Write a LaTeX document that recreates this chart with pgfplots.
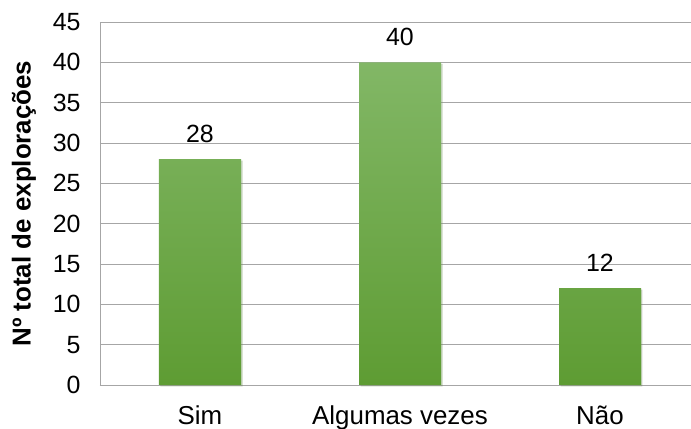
\documentclass[border=0pt]{standalone}
\usepackage{fontspec}
\setmainfont{Liberation Sans}
\usepackage{pgfplots}
\pgfplotsset{compat=1.18}
\usetikzlibrary{shadows}

\definecolor{gridgray}{HTML}{A6A6A6}
\definecolor{bartop}{HTML}{82B766}
\definecolor{barmid}{HTML}{6FAD46}
\definecolor{barbot}{HTML}{5E9C33}

\begin{document}
\begin{tikzpicture}
\begin{axis}[
  name=ax,
  scale only axis,
  width=591bp, height=363bp,
  ybar, bar width=82bp,
  xmin=-0.5, xmax=2.455,
  ymin=0, ymax=45,
  ytick={0,5,...,45},
  xtick=data,
  xticklabels={Sim, Algumas vezes, Não},
  major tick length=0pt,
  axis x line*=bottom,
  axis y line*=left,
  axis line style={gridgray, line width=0.9pt},
  ymajorgrids,
  grid style={gridgray, line width=0.9pt},
  /pgf/number format/assume math mode=true,
  every y tick label/.style={anchor=east, xshift=-16bp, black,
    font=\fontsize{25}{25}\selectfont},
  xticklabel style={anchor=base, yshift=-40bp, font=\fontsize{26}{26}\selectfont, black},
  ylabel={Nº total de explorações},
  ylabel style={at={(axis description cs:-0.1286,0.5)}, anchor=center,
    font=\bfseries\fontsize{26}{26}\selectfont},
  nodes near coords,
  every node near coord/.append style={anchor=base, yshift=17bp,
    font=\fontsize{25}{25}\selectfont, black},
  clip=false,
]
\addplot[draw=none, top color=bartop, middle color=barmid, bottom color=barbot,
  drop shadow={shadow xshift=1.5bp, shadow yshift=-1.5bp, opacity=0.22}]
  coordinates {(0,28) (1,40) (2,12)};
\end{axis}
\pgfresetboundingbox
\path ([xshift=-100bp,yshift=-44bp]ax.south west) rectangle ([yshift=22bp]ax.north east);
\end{tikzpicture}
\end{document}
